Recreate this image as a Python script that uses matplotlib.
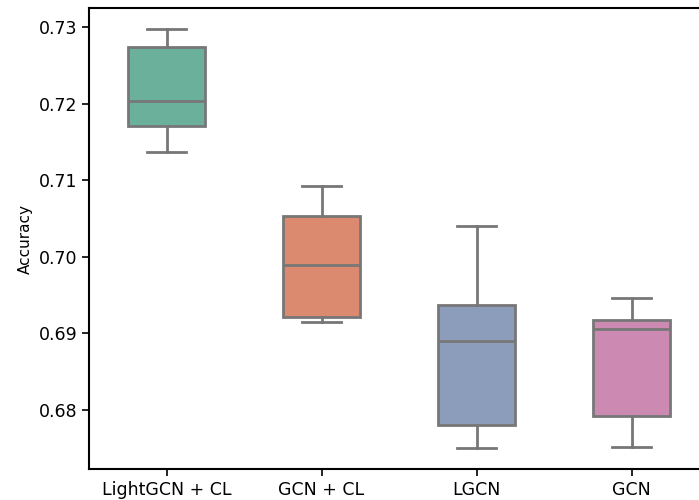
import matplotlib.pyplot as plt

models = ["LightGCN + CL", "GCN + CL", "LGCN", "GCN"]
whisker_low = [0.7137, 0.6915, 0.6751, 0.6752]
q1 = [0.7171, 0.6922, 0.6781, 0.6792]
median = [0.7204, 0.6989, 0.6890, 0.6906]
q3 = [0.7274, 0.7054, 0.6937, 0.6917]
whisker_high = [0.7298, 0.7092, 0.7040, 0.6946]
colors = ["#6ab09a", "#dc8a6f", "#8b9dbb", "#cc8ab2"]

stats = []
for i, name in enumerate(models):
    stats.append({"label": name, "whislo": whisker_low[i], "q1": q1[i],
                  "med": median[i], "q3": q3[i], "whishi": whisker_high[i],
                  "fliers": []})

fig = plt.figure(figsize=(6.99, 5.0), dpi=100)
ax = fig.add_axes([89 / 699, 31 / 500, 620 / 699, 461 / 500])

line = dict(color="#777777", linewidth=2.0)
bp = ax.bxp(stats, positions=range(len(models)), widths=0.5, patch_artist=True,
            boxprops=dict(edgecolor="#777777", linewidth=2.0),
            whiskerprops=line, capprops=line, medianprops=line,
            showfliers=False)
for patch, c in zip(bp["boxes"], colors):
    patch.set_facecolor(c)

ax.set_xlim(-0.5, 3.5)
ax.set_ylim(0.6723, 0.7325)
ax.set_yticks([0.68, 0.69, 0.70, 0.71, 0.72, 0.73])
ax.set_xticks(range(len(models)))
ax.set_xticklabels(models)
ax.tick_params(labelsize=12.5, width=1.2, length=5)
ax.set_ylabel("Accuracy", fontsize=11)
for s in ax.spines.values():
    s.set_linewidth(1.5)
ax.spines["right"].set_visible(False)

fig.savefig("out.png", dpi=100)
